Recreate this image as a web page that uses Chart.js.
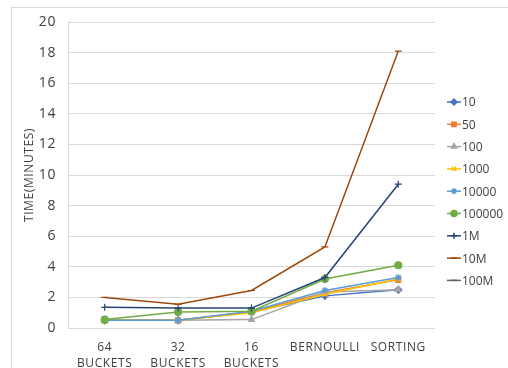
<!DOCTYPE html>
<html>
<head>
<meta charset="utf-8">
<script src="https://cdn.jsdelivr.net/npm/chart.js@4.4.0/dist/chart.umd.min.js"></script>
<style>
  html, body { margin: 0; padding: 0; background: #fff; }
  #wrap { position: relative; width: 508px; height: 368px; overflow: hidden; }
  #frame { position: absolute; left: 11px; top: 7px; width: 520px; height: 400px; border: 1px solid #d9d9d9; box-sizing: border-box; }
  canvas { position: absolute; left: 0; top: 0; }
</style>
</head>
<body>
<div id="wrap">
  <div id="frame"></div>
  <canvas id="timeChart" width="508" height="368"></canvas>
</div>
<script>
const categories = [['64', 'BUCKETS'], ['32', 'BUCKETS'], ['16', 'BUCKETS'], 'BERNOULLI', 'SORTING'];

const t10     = [0.5, 0.5, 1.05, 2.1, 2.5];
const t50     = [0.5, 0.5, 1.05, 2.3, 3.15];
const t100    = [0.5, 0.5, 0.55, 2.35, 2.5];
const t1000   = [0.5, 0.5, 1.0, 2.2, 3.2];
const t10000  = [0.5, 0.5, 1.1, 2.45, 3.3];
const t100000 = [0.55, 1.05, 1.1, 3.2, 4.1];
const t1M     = [1.35, 1.3, 1.3, 3.3, 9.4];
const t10M    = [2.0, 1.55, 2.45, 5.3, 18.1];
const t100M   = [null, null, null, null, null];

const seriesNames = ['10', '50', '100', '1000', '10000', '100000', '1M', '10M', '100M'];
const seriesData = [t10, t50, t100, t1000, t10000, t100000, t1M, t10M, t100M];
const colors = ['#4472c4', '#ed7d31', '#a5a5a5', '#ffc000', '#5b9bd5', '#70ad47', '#264478', '#9e480e', '#636363'];
const markers = ['rectRot', 'rect', 'triangle', 'crossRot', 'star', 'circle', 'cross', 'line', 'line'];

const yTicks = [0, 2, 4, 6, 8, 10, 12, 14, 16, 18, 20];

// a bit of letter spacing for the axis text, like the original
const spacing = {
  id: 'spacing',
  beforeDraw(chart) { chart.ctx.letterSpacing = '0.6px'; },
  afterDatasetsDraw(chart) { chart.ctx.letterSpacing = '0px'; }
};

// legend drawn by hand: line + marker, like the office style
const sideLegend = {
  id: 'sideLegend',
  afterDraw(chart) {
    const ctx = chart.ctx;
    ctx.save();
    ctx.letterSpacing = '0px';
    ctx.font = '12px "Open Sans", sans-serif';
    ctx.textBaseline = 'middle';
    chart.data.datasets.forEach((ds, i) => {
      const y = 102 + i * 22.3;
      ctx.strokeStyle = ds.borderColor;
      ctx.lineWidth = 1.5;
      ctx.beginPath();
      ctx.moveTo(447, y);
      ctx.lineTo(461, y);
      ctx.stroke();
      Chart.helpers.drawPoint(ctx, {
        pointStyle: ds.pointStyle, radius: 3, borderWidth: 1
      }, 454, y);
      ctx.fillStyle = ds.borderColor;
      ctx.fill();
      ctx.fillStyle = '#404040';
      ctx.fillText(ds.label, 462, y + 1);
    });
    ctx.restore();
  }
};

new Chart(document.getElementById('timeChart'), {
  type: 'line',
  data: {
    labels: categories,
    datasets: seriesNames.map((name, i) => ({
      label: name,
      data: seriesData[i],
      borderColor: colors[i],
      backgroundColor: colors[i],
      pointStyle: markers[i],
      pointRadius: 3.5,
      pointBorderWidth: 1.2,
      borderWidth: 1.5,
      tension: 0,
      order: seriesNames.length - i
    }))
  },
  options: {
    responsive: false,
    animation: false,
    layout: { padding: { top: 22, right: 73, left: 0, bottom: 0 } },
    plugins: {
      legend: { display: false },
      tooltip: { enabled: false }
    },
    scales: {
      x: {
        offset: true,
        grid: { display: false },
        border: { display: false },
        ticks: {
          color: '#404040',
          font: { family: '"Open Sans", sans-serif', size: 12, lineHeight: 1.35 },
          maxRotation: 0,
          autoSkip: false,
          padding: 3
        },
        afterFit(scale) { scale.height = 40; }
      },
      y: {
        min: 0,
        max: 20,
        afterBuildTicks(scale) { scale.ticks = yTicks.map(v => ({ value: v })); },
        grid: { color: '#d9d9d9', lineWidth: 1, drawTicks: false },
        border: { display: true, color: '#d9d9d9' },
        ticks: {
          color: '#404040',
          font: { family: '"Open Sans", sans-serif', size: 14 },
          padding: 12
        },
        title: {
          display: true,
          text: 'TIME(MINUTES)',
          color: '#404040',
          font: { family: '"Open Sans", sans-serif', size: 12 },
          padding: { top: 22, bottom: 4 }
        },
        afterFit(scale) { scale.width = 68; }
      }
    }
  },
  plugins: [spacing, sideLegend]
});
</script>
</body>
</html>
